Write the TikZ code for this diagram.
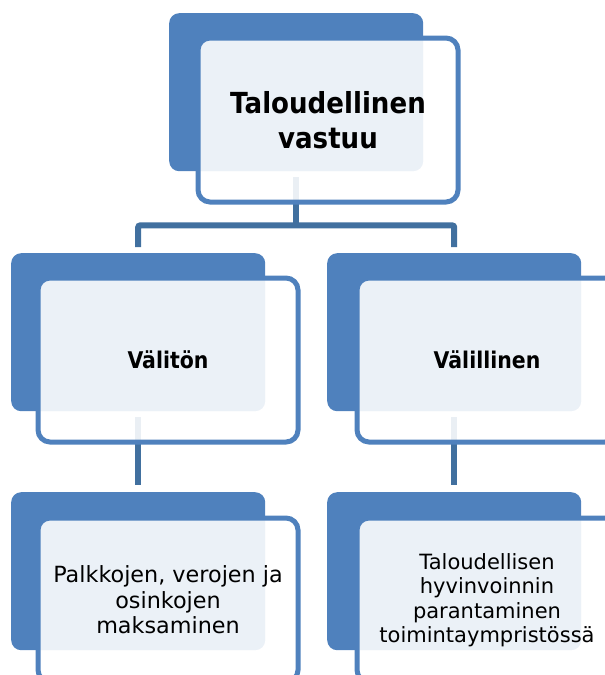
\documentclass[tikz,border=0pt]{standalone}
\usepackage{fontspec}
\setmainfont{DejaVu Sans}
\newfontfamily\headfont[FakeStretch=0.9]{DejaVu Sans}
\newfontfamily\subfont[FakeStretch=0.89]{DejaVu Sans}
\usetikzlibrary{calc}
\definecolor{boxblue}{HTML}{4F81BD}
\definecolor{connblue}{HTML}{41709F}
\begin{document}
\begin{tikzpicture}[x=1pt,y=-1pt,
  backbox/.style={fill=boxblue, rounded corners=10pt, inner sep=0pt,
    minimum width=254pt, minimum height=158pt, anchor=north west},
  frontbox/.style={draw=boxblue, line width=5pt, fill=white, fill opacity=0.89,
    text opacity=1, rounded corners=12pt, inner sep=0pt, align=center,
    minimum width=260pt, minimum height=164pt, anchor=north west},
  conn/.style={draw=connblue, line width=6pt, rounded corners=2pt},
  titletxt/.style={font=\headfont\bfseries\fontsize{29pt}{35pt}\selectfont},
  subtxt/.style={font=\subfont\bfseries\fontsize{23pt}{27pt}\selectfont},
  leaftxt/.style={font=\fontsize{22.3pt}{25.5pt}\selectfont},
  leaftxtb/.style={font=\fontsize{21pt}{24.5pt}\selectfont}]
\useasboundingbox (0,0) rectangle (605,675);
\clip (0,0) rectangle (605,675);
% back boxes
\node[backbox] (b0) at (169,13) {};
\node[backbox] (b1) at (11,253) {};
\node[backbox] (b2) at (327,253) {};
\node[backbox] (b3) at (11,492) {};
\node[backbox] (b4) at (327,492) {};
% connectors
\coordinate (c0) at ([yshift=-6pt]b0.south);
\coordinate (j) at ($(b0.south)+(0,54)$);
\coordinate (t1) at ([yshift=6pt]b1.north);
\coordinate (t2) at ([yshift=6pt]b2.north);
\draw[conn] (t1) |- (j) -| (t2);
\draw[conn] (c0) -- (j);
\draw[conn] ([yshift=-6pt]b1.south) -- ([yshift=7pt]b3.north);
\draw[conn] ([yshift=-6pt]b2.south) -- ([yshift=7pt]b4.north);
% front boxes
\node[frontbox, titletxt] (f0) at (195.5,35.5) {Taloudellinen\\vastuu};
\node[frontbox, subtxt] (f1) at (35.5,275.5) {Välitön};
\node[frontbox, subtxt] (f2) at (354.5,275.5) {Välillinen};
\node[frontbox, leaftxt] (f3) at (35.5,515.5) {Palkkojen, verojen ja\\osinkojen\\maksaminen};
\node[frontbox, leaftxtb] (f4) at (354.5,515.5) {Taloudellisen\\hyvinvoinnin\\parantaminen\\toimintaympristössä};
\end{tikzpicture}
\end{document}
